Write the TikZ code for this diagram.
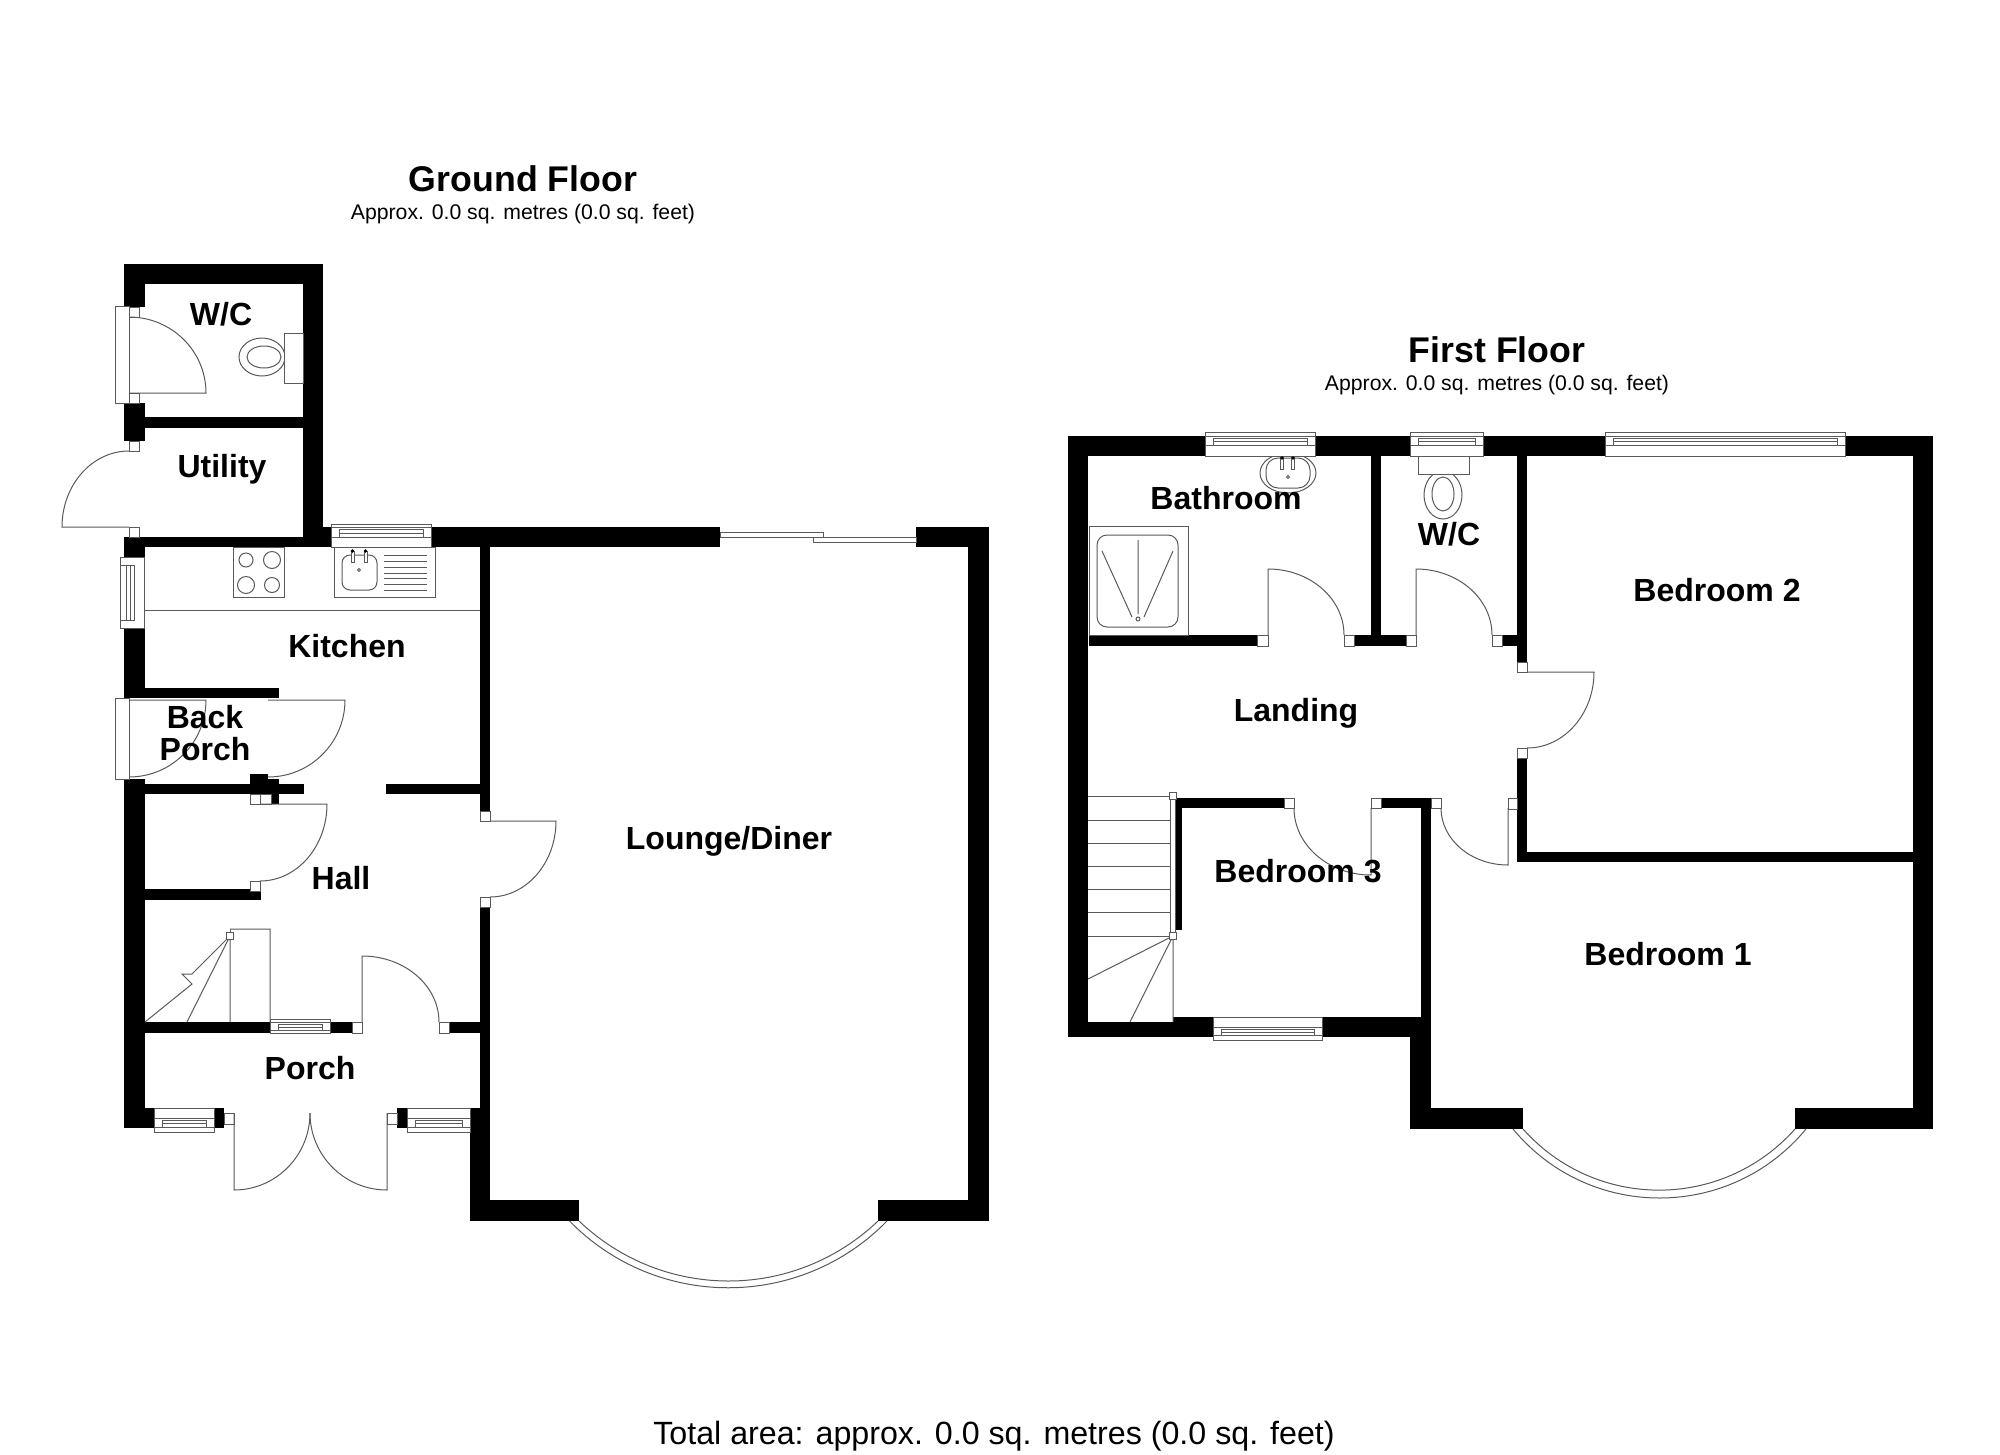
\documentclass[tikz,border=0pt]{standalone}
\usepackage{fontspec}
\setmainfont{Liberation Sans}
\usetikzlibrary{calc}

\tikzset{
  wall/.style = {fill = black},
  fitting/.style = {draw = black!65, line width = 1pt},
  framebox/.style = {draw = black!65, line width = 1pt, fill = white},
  roomlabel/.style = {font = \fontsize{32}{35}\selectfont\bfseries, inner sep = 0pt, align = center, text height = 23pt, text depth = 0pt},
  floortitle/.style = {font = \fontsize{35.7}{40}\selectfont\bfseries, inner sep = 0pt},
  floorarea/.style = {font = \fontsize{21.2}{26}\selectfont, inner sep = 0pt}
}

% door: hinge, end of leaf, end of swing
\newcommand{\doorswing}[3]{
  \coordinate (swingcorner) at ($(#2)+(#3)-(#1)$);
  \draw[fitting] (#1) -- (#2) .. controls ($(#2)!.5523!(swingcorner)$) and ($(#3)!.5523!(swingcorner)$) .. (#3);
}

\begin{document}
\begin{tikzpicture}[x = 1pt, y = -1pt]
  \useasboundingbox (0,0) rectangle (2000,1454);

  % ground floor walls
  \foreach \xa/\ya/\xb/\yb in {
    124/264/323/284, 124/264/145/307, 303/264/323/547, 124/403/145/441,
    145/417/303/428, 124/537/331/547, 124/537/145/557, 323/527/331/547,
    431/527/720/547, 480/547/490/811, 916/527/989/547, 968/527/989/1221,
    124/628/145/698, 145/688/279/698, 124/779/145/1128, 145/784/304/794,
    386/784/480/794, 250/774/268/784, 268/779/279/784, 271/794/279/804,
    145/889/261/900, 480/907/490/1108, 145/1022/270/1033, 330/1022/352/1033,
    449/1022/480/1033, 124/1108/154/1128, 214/1108/224/1128, 397/1108/407/1128,
    470/1108/490/1221, 470/1200/579/1221, 878/1200/989/1221}
    \fill[wall] (\xa,\ya) rectangle (\xb,\yb);

  % first floor walls
  \foreach \xa/\ya/\xb/\yb in {
    1068/436/1205/456, 1315/436/1410/456, 1483/436/1605/456, 1845/436/1933/456,
    1068/436/1088/1037, 1913/436/1933/1129, 1371/456/1381/635, 1517/456/1527/662,
    1089/635/1257/646, 1354/635/1406/646, 1502/635/1517/646, 1517/758/1527/862,
    1517/852/1913/862, 1176/798/1284/808, 1176/798/1182/930, 1381/798/1431/808,
    1421/798/1431/1037, 1068/1022/1173/1037, 1173/1017/1213/1037, 1322/1017/1421/1037,
    1410/1037/1431/1129, 1410/1108/1523/1129, 1795/1108/1933/1129}
    \fill[wall] (\xa,\ya) rectangle (\xb,\yb);

  % door frames
  \foreach \xa/\ya/\xb/\yb in {
    129/307/139/317, 129/393/139/403, 129/441/139/451, 129/527/139/537,
    250/794/260/804, 260/794/271/804, 250/881/260/891, 480/811/490/821,
    480/897/490/907, 352/1022/362/1033, 439/1022/449/1033, 224/1113/234/1124,
    387/1113/397/1124, 1257/635/1268/646, 1344/635/1354/646, 1406/635/1416/646,
    1492/635/1502/646, 1517/662/1527/672, 1517/748/1527/758, 1284/798/1294/808,
    1371/798/1381/808, 1431/798/1441/808, 1508/798/1517/809}
    \draw[framebox] (\xa,\ya) rectangle (\xb,\yb);

  % doors
  \doorswing{129,393}{206,393}{129,317}
  \doorswing{129,527}{62,527}{129,451}
  \doorswing{129,700}{206,700}{129,777}
  \doorswing{268,700}{345,700}{268,777}
  \doorswing{260,804}{327,804}{260,881}
  \doorswing{490,821}{556,821}{490,897}
  \doorswing{362,1022}{362,956}{439,1022}
  \doorswing{234,1113}{234,1190}{310,1113}
  \doorswing{387,1113}{387,1190}{310,1113}
  \doorswing{1268,635}{1268,569}{1344,635}
  \doorswing{1416,635}{1416,569}{1492,635}
  \doorswing{1527,672}{1594,672}{1527,748}
  \doorswing{1371,808}{1371,875}{1294,808}
  \doorswing{1508,808}{1508,865}{1441,808}

  % windows: left, right, top, bottom, two glazing lines
  \foreach \xa/\xb/\yt/\yb/\ya/\yc in {
    331/431/524/547/527/537.5, 270/330/1019/1033/1022/1030,
    154/214/1108/1132/1118/1127, 407/470/1108/1132/1118/1127,
    1205/1315/432/456/436/445.5, 1410/1483/432/456/436/445.5,
    1605/1845/432/456/436/445.5, 1213/1322/1017/1040/1027/1035} {
    \draw[framebox] (\xa,\yt) rectangle (\xb,\yb);
    \draw[fitting] (\xa,\ya) -- (\xb,\ya) (\xa,\yc) -- (\xb,\yc);
    \draw[fitting] (\xa+8,\ya+2) rectangle (\xb-8,\yc);
    \draw[fitting] (\xa+8,{(\ya+\yc)/2+1}) -- (\xb-8,{(\ya+\yc)/2+1});
  }
  \draw[framebox] (120,557) rectangle (144,628);
  \draw[fitting] (126,565) rectangle (134,620) (130,565) -- (130,620);
  \draw[fitting] (120,565) -- (134,565) (120,620) -- (134,620);

  % side door openings and sliding door
  \draw[framebox] (115,306) rectangle (129,403);
  \draw[framebox] (115,698) rectangle (129,779);
  \draw[framebox] (720,532) rectangle (823,537);
  \draw[framebox] (813,537) rectangle (916,542);

  % bay windows
  \draw[fitting] (569.5,1221) .. controls +(87,89) and +(-87,89) .. (887,1221);
  \draw[fitting] (579,1221) .. controls +(84,80) and +(-84,80) .. (878,1221);
  \draw[fitting] (1513,1129) .. controls +(76,92) and +(-76,92) .. (1806,1129);
  \draw[fitting] (1523,1129) .. controls +(72.5,81.5) and +(-72.5,81.5) .. (1795,1129);

  % kitchen
  \draw[fitting] (145,610) -- (480,610);
  \draw[fitting] (233,547) rectangle (284,597);
  \foreach \cx/\cy/\cr in {246/560/7, 272/560/8.5, 246/585/8.5, 272/585/7.5}
    \draw[fitting] (\cx,\cy) circle[radius = \cr];
  \draw[fitting] (334,547) rectangle (435,597);
  \draw[fitting, rounded corners = 8pt] (342,555) rectangle (377,590);
  \draw[framebox] (351,551) rectangle (354,562);
  \draw[framebox] (364,551) rectangle (367,562);
  \fill (352.5,551) circle[radius = 1.8] (365.5,551) circle[radius = 1.8];
  \draw[fitting] (359,570) circle[radius = 1.5];
  \foreach \yl in {555,561,567,573,578,584,590}
    \draw[fitting] (384,\yl) -- (427,\yl);

  % toilets
  \draw[fitting] (262,357) ellipse[x radius = 23, y radius = 19];
  \draw[fitting] (264,357) ellipse[x radius = 17, y radius = 11];
  \draw[framebox] (284,333) rectangle (303,383);
  \draw[fitting] (1443,495) ellipse[x radius = 19, y radius = 24];
  \draw[fitting] (1443,494) ellipse[x radius = 11, y radius = 17];
  \draw[framebox] (1418,456) rectangle (1469,474);

  % ground floor stairs
  \draw[fitting] (187,1022) -- (230,936) -- (230,1022) (230,929) -- (270,929) -- (270,1022);
  \draw[fitting] (230,929) -- (230,936);
  \draw[fitting] (230,936) -- (192,974) -- (182,974) -- (192,984) -- (145,1022);
  \draw[framebox] (226.5,932.5) rectangle (233.5,939.5);

  % first floor stairs
  \foreach \yl in {796,820,843,866,889,912,936}
    \draw[fitting] (1088,\yl) -- (1170,\yl);
  \draw[framebox] (1170,798) rectangle (1175,933);
  \draw[fitting] (1173,936) -- (1088,979) (1173,936) -- (1130,1022) (1173,936) -- (1173,1022);
  \draw[framebox] (1169.5,792.5) rectangle (1176.5,799.5);
  \draw[framebox] (1169.5,932.5) rectangle (1176.5,939.5);

  % bathroom
  \draw[fitting] (1089,526) rectangle (1188,635);
  \draw[fitting, rounded corners = 10pt] (1097,535) rectangle (1178,627);
  \draw[fitting] (1138,619) circle[radius = 2];
  \draw[fitting] (1138,540) -- (1138,614) (1102,551) -- (1132,617) (1173,551) -- (1144,617);
  \begin{scope}
    \clip (1250,456) rectangle (1330,500);
    \draw[fitting] (1288,473) ellipse[x radius = 28, y radius = 20];
  \end{scope}
  \draw[fitting, rounded corners = 12pt] (1266,458) rectangle (1310,488);
  \draw[framebox] (1280.5,457) rectangle (1283.5,469);
  \draw[framebox] (1291.5,457) rectangle (1294.5,469);
  \fill (1282,458) circle[radius = 1.8] (1293,458) circle[radius = 1.8];
  \draw[fitting] (1288,477) circle[radius = 1.5];

  % titles
  \node[floortitle] (groundtitle) at (523,179) {Ground Floor};
  \node[floorarea] (groundarea) at (523,214.5) {Approx. 0.0 sq. metres (0.0 sq. feet)};
  \node[floortitle] (firsttitle) at (1497,350) {First Floor};
  \node[floorarea] (firstarea) at (1497,385.5) {Approx. 0.0 sq. metres (0.0 sq. feet)};
  \node[font = \fontsize{32.2}{38}\selectfont, inner sep = 0pt] (totalarea) at (994,1436) {Total area: approx. 0.0 sq. metres (0.0 sq. feet)};

  % rooms
  \node[roomlabel] (wcground) at (221,314) {W/C};
  \node[roomlabel] (utility) at (222,466) {Utility};
  \node[roomlabel] (kitchen) at (347,646) {Kitchen};
  \node[roomlabel] (backporch) at (205,749) {Back\\[-3pt]Porch};
  \node[roomlabel] (hall) at (341,878) {Hall};
  \node[roomlabel] (porch) at (310,1068) {Porch};
  \node[roomlabel] (lounge) at (729,838) {Lounge/Diner};
  \node[roomlabel] (bathroom) at (1226,498) {Bathroom};
  \node[roomlabel] (wcfirst) at (1449,534) {W/C};
  \node[roomlabel] (landing) at (1296,710) {Landing};
  \node[roomlabel] (bedthree) at (1298,871) {Bedroom 3};
  \node[roomlabel] (bedtwo) at (1717,590) {Bedroom 2};
  \node[roomlabel] (bedone) at (1668,954) {Bedroom 1};
\end{tikzpicture}
\end{document}
